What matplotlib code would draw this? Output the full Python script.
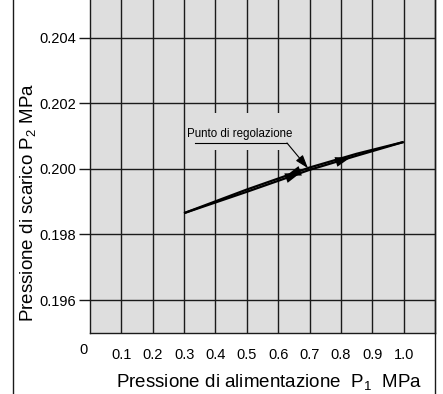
import numpy as np
import matplotlib
matplotlib.use("Agg")
import matplotlib.pyplot as plt
from matplotlib.lines import Line2D
from matplotlib.patches import Rectangle
from matplotlib import font_manager

plt.rcParams['font.family'] = ['Liberation Sans', 'DejaVu Sans']
plt.rcParams['mathtext.fontset'] = 'custom'
plt.rcParams['mathtext.rm'] = 'Liberation Sans'
plt.rcParams['mathtext.it'] = 'Liberation Sans'
plt.rcParams['mathtext.default'] = 'regular'

names = {f.name for f in font_manager.fontManager.ttflist}
narrow = 'Liberation Sans Narrow' if 'Liberation Sans Narrow' in names else None

# ---- data ----
p1 = [0.3, 0.5, 0.7, 0.85, 1.0]
p2_increasing = [0.19865, 0.19930, 0.19997, 0.20040, 0.20082]
p2_decreasing = [0.19865, 0.19937, 0.20004, 0.20046, 0.20082]
x_ticks = [0.1, 0.2, 0.3, 0.4, 0.5, 0.6, 0.7, 0.8, 0.9, 1.0]
x_tick_labels = ['0.1', '0.2', '0.3', '0.4', '0.5', '0.6', '0.7', '0.8', '0.9', '1.0']
y_ticks = [0.196, 0.198, 0.200, 0.202, 0.204]
y_tick_labels = ['0.196', '0.198', '0.200', '0.202', '0.204']
set_point = (0.695, 0.20002)
annot_text = 'Punto di regolazione'
arrows_inc = [0.67, 0.83]   # arrow tips on increasing branch (pointing right)
arrows_dec = [0.625]        # arrow tips on decreasing branch (pointing left)

W, H = 443, 394
fig = plt.figure(figsize=(W / 100, H / 100), dpi=100)
ax = fig.add_axes([90 / W, 1 - 333 / H, (435 - 90) / W, 333 / H])
bg = '#dedede'
ax.set_facecolor(bg)
ax.set_xlim(0, 1.1)
ax.set_ylim(0.194994, 0.20515)

# grid
for xv in x_ticks:
    ax.axvline(xv, color='#1a1a1a', lw=1.0, zorder=1)
for yv in y_ticks:
    ax.axhline(yv, color='#1a1a1a', lw=1.0, zorder=1)

for s in ['left', 'bottom', 'right']:
    ax.spines[s].set_color('#1a1a1a')
    ax.spines[s].set_linewidth(1.0)
ax.spines['top'].set_visible(False)

ax.set_xticks(x_ticks)
ax.set_xticklabels(x_tick_labels, fontsize=10.5)
ax.tick_params(axis='x', length=0, pad=11)
ax.set_yticks(y_ticks)
ax.set_yticklabels(y_tick_labels, fontsize=10.5)
ax.tick_params(axis='y', length=8, width=1.0, color='#1a1a1a', pad=2)
ax.text(-0.02, -0.052, '0', transform=ax.get_xaxis_transform(), ha='center', va='center', fontsize=10.5)

# mask behind annotation text
ax.add_patch(Rectangle((0.319, 0.20058), 0.335, 0.00113, facecolor=bg, edgecolor='none', zorder=2))

# curves
ax.plot(p1, p2_increasing, color='black', lw=1.6, zorder=4, solid_capstyle='butt')
ax.plot(p1, p2_decreasing, color='black', lw=1.6, zorder=4, solid_capstyle='butt')

def arrow_on(xs, ys, tip, direction):
    tail = tip - 0.06 * direction
    ax.annotate('', xy=(tip, np.interp(tip, xs, ys)), xytext=(tail, np.interp(tail, xs, ys)),
                arrowprops=dict(arrowstyle='-|>,head_length=0.9,head_width=0.3', color='black', lw=0,
                                mutation_scale=12, shrinkA=0, shrinkB=0), zorder=5)

for t in arrows_inc:
    arrow_on(p1, p2_increasing, t, 1)
for t in arrows_dec:
    arrow_on(p1, p2_decreasing, t, -1)

# annotation
knee = (0.628, 0.20079)
ax.plot([0.335, knee[0]], [knee[1], knee[1]], color='black', lw=0.8, zorder=3)
ax.annotate('', xy=set_point, xytext=knee,
            arrowprops=dict(arrowstyle='-|>,head_length=0.9,head_width=0.3', color='black', lw=0.8,
                            mutation_scale=9, shrinkA=0, shrinkB=0), zorder=5)
if narrow:
    ax.text(0.478, 0.20087, annot_text, ha='center', va='bottom', fontsize=9.6, zorder=5,
            family=narrow)
else:
    ax.text(0.478, 0.20087, annot_text, ha='center', va='bottom', fontsize=8.3, zorder=5)

# axis labels
fig.text(28 / W, 1 - 202 / H, 'Pressione di scarico P$_2$ MPa', rotation=90,
         ha='center', va='center', fontsize=13.5)
fig.text(269 / W, 1 - 382 / H, 'Pressione di alimentazione  P$_1$  MPa',
         ha='center', va='center', fontsize=13.5)

# outer frame lines
fig.add_artist(Line2D([13 / W, 13 / W], [0, 1], color='#1a1a1a', lw=1.0, transform=fig.transFigure))
fig.add_artist(Line2D([435 / W, 435 / W], [0, 1], color='#1a1a1a', lw=1.0, transform=fig.transFigure))

fig.savefig('out.png', dpi=100)
